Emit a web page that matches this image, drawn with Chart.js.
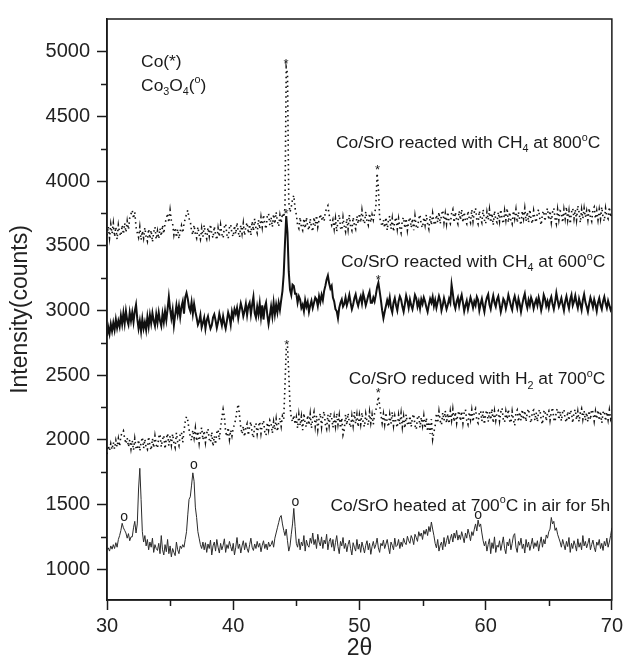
<!DOCTYPE html>
<html>
<head>
<meta charset="utf-8">
<title>XRD Co/SrO</title>
<script src="https://cdn.jsdelivr.net/npm/chart.js@4.4.1/dist/chart.umd.min.js"></script>
<style>
  html,body{margin:0;padding:0;background:#fff;}
  #wrap{width:627px;height:660px;}
</style>
</head>
<body>
<div id="wrap"><canvas id="xrd" width="627" height="660"></canvas></div>
<script>
// ===== 2θ grid (deg) =====
const twoTheta=[
30.0,30.1,30.2,30.3,30.4,30.5,30.6,30.7,30.8,30.9,
31.0,31.1,31.2,31.3,31.4,31.5,31.6,31.7,31.8,31.9,
32.0,32.1,32.2,32.3,32.4,32.5,32.6,32.7,32.8,32.9,
33.0,33.1,33.2,33.3,33.4,33.5,33.6,33.7,33.8,33.9,
34.0,34.1,34.2,34.3,34.4,34.5,34.6,34.7,34.8,34.9,
35.0,35.1,35.2,35.3,35.4,35.5,35.6,35.7,35.8,35.9,
36.0,36.1,36.2,36.3,36.4,36.5,36.6,36.7,36.8,36.9,
37.0,37.1,37.2,37.3,37.4,37.5,37.6,37.7,37.8,37.9,
38.0,38.1,38.2,38.3,38.4,38.5,38.6,38.7,38.8,38.9,
39.0,39.1,39.2,39.3,39.4,39.5,39.6,39.7,39.8,39.9,
40.0,40.1,40.2,40.3,40.4,40.5,40.6,40.7,40.8,40.9,
41.0,41.1,41.2,41.3,41.4,41.5,41.6,41.7,41.8,41.9,
42.0,42.1,42.2,42.3,42.4,42.5,42.6,42.7,42.8,42.9,
43.0,43.1,43.2,43.3,43.4,43.5,43.6,43.7,43.8,43.9,
44.0,44.1,44.2,44.3,44.4,44.5,44.6,44.7,44.8,44.9,
45.0,45.1,45.2,45.3,45.4,45.5,45.6,45.7,45.8,45.9,
46.0,46.1,46.2,46.3,46.4,46.5,46.6,46.7,46.8,46.9,
47.0,47.1,47.2,47.3,47.4,47.5,47.6,47.7,47.8,47.9,
48.0,48.1,48.2,48.3,48.4,48.5,48.6,48.7,48.8,48.9,
49.0,49.1,49.2,49.3,49.4,49.5,49.6,49.7,49.8,49.9,
50.0,50.1,50.2,50.3,50.4,50.5,50.6,50.7,50.8,50.9,
51.0,51.1,51.2,51.3,51.4,51.5,51.6,51.7,51.8,51.9,
52.0,52.1,52.2,52.3,52.4,52.5,52.6,52.7,52.8,52.9,
53.0,53.1,53.2,53.3,53.4,53.5,53.6,53.7,53.8,53.9,
54.0,54.1,54.2,54.3,54.4,54.5,54.6,54.7,54.8,54.9,
55.0,55.1,55.2,55.3,55.4,55.5,55.6,55.7,55.8,55.9,
56.0,56.1,56.2,56.3,56.4,56.5,56.6,56.7,56.8,56.9,
57.0,57.1,57.2,57.3,57.4,57.5,57.6,57.7,57.8,57.9,
58.0,58.1,58.2,58.3,58.4,58.5,58.6,58.7,58.8,58.9,
59.0,59.1,59.2,59.3,59.4,59.5,59.6,59.7,59.8,59.9,
60.0,60.1,60.2,60.3,60.4,60.5,60.6,60.7,60.8,60.9,
61.0,61.1,61.2,61.3,61.4,61.5,61.6,61.7,61.8,61.9,
62.0,62.1,62.2,62.3,62.4,62.5,62.6,62.7,62.8,62.9,
63.0,63.1,63.2,63.3,63.4,63.5,63.6,63.7,63.8,63.9,
64.0,64.1,64.2,64.3,64.4,64.5,64.6,64.7,64.8,64.9,
65.0,65.1,65.2,65.3,65.4,65.5,65.6,65.7,65.8,65.9,
66.0,66.1,66.2,66.3,66.4,66.5,66.6,66.7,66.8,66.9,
67.0,67.1,67.2,67.3,67.4,67.5,67.6,67.7,67.8,67.9,
68.0,68.1,68.2,68.3,68.4,68.5,68.6,68.7,68.8,68.9,
69.0,69.1,69.2,69.3,69.4,69.5,69.6,69.7,69.8,69.9,
70.0];

// ===== intensities (counts), one per 2θ step =====
// Co/SrO heated at 700°C in air for 5h
const airHeated=[
1150,1165,1140,1180,1155,1190,1160,1205,1170,1230,
1260,1300,1355,1320,1300,1280,1240,1275,1220,1250,
1250,1320,1370,1280,1350,1620,1780,1540,1290,1210,
1260,1180,1230,1150,1210,1170,1240,1130,1190,1160,
1145,1200,1120,1260,1150,1110,1190,1135,1230,1120,
1180,1095,1160,1130,1105,1210,1150,1120,1180,1160,
1190,1170,1230,1290,1420,1540,1560,1650,1745,1680,
1480,1400,1290,1240,1190,1160,1210,1150,1205,1130,
1195,1160,1225,1110,1180,1210,1140,1230,1170,1125,
1200,1150,1185,1235,1130,1190,1160,1215,1175,1140,
1200,1110,1170,1245,1160,1195,1125,1180,1220,1150,
1205,1160,1130,1190,1240,1170,1145,1195,1160,1215,
1170,1200,1135,1185,1220,1160,1195,1150,1210,1175,
1190,1220,1170,1240,1280,1320,1360,1400,1415,1350,
1300,1260,1310,1220,1140,1180,1270,1350,1470,1330,
1200,1170,1235,1150,1210,1180,1260,1140,1225,1185,
1170,1240,1200,1280,1190,1230,1160,1270,1210,1180,
1250,1160,1225,1195,1270,1150,1215,1240,1170,1230,
1140,1205,1260,1175,1120,1215,1180,1245,1160,1200,
1135,1190,1225,1160,1110,1205,1170,1140,1230,1155,
1195,1130,1210,1170,1125,1185,1220,1150,1200,1115,
1175,1215,1160,1190,1240,1165,1130,1200,1180,1225,
1160,1195,1230,1170,1120,1210,1185,1150,1240,1175,
1185,1230,1160,1210,1175,1240,1205,1190,1255,1220,
1200,1260,1235,1190,1270,1245,1215,1290,1255,1280,
1230,1300,1270,1310,1260,1330,1290,1365,1310,1260,
1200,1165,1230,1140,1185,1210,1150,1245,1175,1220,
1260,1195,1235,1270,1210,1280,1240,1300,1225,1265,
1230,1290,1250,1205,1280,1240,1310,1270,1220,1290,
1260,1310,1350,1295,1380,1330,1350,1280,1220,1180,
1215,1140,1190,1235,1120,1205,1160,1250,1130,1185,
1170,1220,1145,1195,1250,1160,1120,1210,1180,1235,
1150,1200,1260,1275,1170,1130,1215,1185,1240,1160,
1195,1125,1230,1170,1210,1145,1190,1240,1160,1205,
1175,1220,1140,1200,1250,1170,1230,1195,1265,1240,
1290,1310,1400,1350,1370,1300,1320,1270,1240,1210,
1170,1230,1190,1150,1215,1175,1245,1130,1200,1160,
1220,1185,1140,1235,1170,1205,1150,1260,1180,1215,
1165,1200,1240,1150,1190,1225,1170,1135,1210,1185,
1230,1160,1200,1145,1215,1180,1240,1170,1210,1260,
1320];

// Co/SrO reduced with H2 at 700°C
const h2Reduced=[
1890,1955,1915,1970,1925,1980,1930,1995,1945,2010,
1950,2030,2055,2070,2010,1970,2015,1945,2000,1930,
1995,1920,2010,1940,1925,2000,1915,1980,2020,1935,
2005,1940,1925,2025,1955,1920,2010,1940,2030,1960,
1935,2020,2045,1945,2005,2035,1930,2010,2050,1955,
2030,1960,2045,1975,1940,2055,1985,1955,2040,2060,
1980,2070,2140,2180,2150,2080,2025,1995,2075,2015,
2090,1990,2065,1975,2055,2095,2000,2070,1980,2050,
2085,2005,1980,2060,1950,2030,1965,2055,2080,2000,
2100,2170,2235,2180,2060,2025,2095,2005,2075,2030,
2090,2120,2160,2235,2275,2190,2095,2045,2105,2025,
2095,2125,2035,2105,2140,2050,2015,2110,2130,2045,
2105,2140,2050,2120,2150,2060,2035,2135,2075,2150,
2125,2050,2140,2080,2160,2065,2130,2170,2105,2185,
2160,2420,2700,2725,2520,2260,2170,2140,2190,2120,
2175,2090,2195,2110,2180,2075,2205,2120,2100,2190,
2115,2200,2090,2170,2215,2105,2185,2080,2165,2205,
2100,2185,2220,2120,2085,2195,2110,2210,2170,2095,
2180,2105,2205,2120,2190,2090,2170,2040,2080,2195,
2115,2205,2130,2095,2185,2110,2215,2125,2195,2100,
2190,2120,2210,2130,2100,2200,2140,2115,2215,2130,
2195,2120,2205,2230,2270,2335,2270,2195,2130,2200,
2120,2210,2135,2100,2195,2125,2215,2110,2185,2130,
2095,2190,2120,2205,2100,2180,2090,2195,2125,2110,
2185,2100,2175,2200,2110,2080,2170,2190,2095,2175,
2110,2185,2090,2170,2065,2140,2045,2160,2005,2060,
2110,2205,2130,2220,2145,2115,2210,2150,2225,2130,
2205,2125,2220,2150,2235,2140,2215,2130,2200,2225,
2145,2220,2130,2210,2235,2150,2120,2215,2155,2230,
2140,2215,2240,2150,2130,2210,2225,2145,2220,2120,
2205,2230,2140,2215,2155,2240,2130,2220,2150,2210,
2225,2145,2215,2245,2155,2135,2220,2160,2235,2150,
2130,2220,2155,2110,2210,2230,2140,2215,2150,2235,
2155,2225,2140,2215,2240,2160,2130,2220,2230,2150,
2210,2140,2220,2235,2155,2120,2215,2230,2145,2210,
2225,2150,2215,2250,2160,2140,2225,2240,2155,2220,
2145,2215,2235,2160,2135,2220,2150,2230,2210,2130,
2215,2235,2155,2220,2140,2210,2240,2160,2225,2150,
2210,2140,2225,2155,2235,2215,2145,2220,2160,2230,
2150,2220,2130,2210,2225,2145,2215,2155,2230,2160,
2190];

// Co/SrO reacted with CH4 at 600°C
const ch4At600=[
2800,2870,2820,2895,2840,2905,2850,2930,2865,2920,
2875,2960,2895,2980,2900,2995,2925,2890,2985,2920,
2985,2910,2995,3045,2935,2860,2920,2840,2935,2860,
2910,2850,2950,2875,2965,2900,2980,2920,2880,2970,
2905,2985,2920,2880,2975,2910,2995,2925,3010,3105,
3010,2940,3005,2885,2965,3040,2970,3035,2950,3030,
3070,2975,3100,3135,3090,3025,2995,3065,2975,3050,
2990,2945,2890,2915,2965,2870,2905,2945,2860,2925,
2955,2900,2860,2885,2945,2970,2925,2865,2910,2975,
2930,2885,2955,2900,2860,2920,2985,2950,2890,2990,
2945,3010,2975,3020,2940,3000,3055,3015,2955,2995,
3050,2965,3035,3060,2970,3045,3105,2980,2945,3030,
2970,3055,2950,3040,2930,3025,3060,2965,2895,2960,
3030,2955,3060,2970,3045,2985,3060,3005,3080,3150,
3280,3520,3730,3600,3300,3160,3120,3200,3190,3130,
3130,3060,3110,3085,3020,3045,2995,3080,3030,3065,
2990,3040,3075,3020,3060,3100,3085,3035,3110,3065,
3120,3080,3150,3190,3240,3270,3210,3170,3190,3100,
3070,3010,2995,2940,3020,3060,3085,3030,3050,3100,
3040,3075,3120,3060,3010,3045,3095,3125,3070,3035,
3080,3110,3055,3130,3090,3040,3075,3115,3145,3060,
3060,3100,3070,3120,3180,3215,3150,3080,3000,2940,
2990,3035,3080,3045,3100,3020,2985,3060,3095,3040,
3000,3070,3110,3085,3030,2990,3050,3115,3075,3020,
3085,3040,3010,3060,3120,3095,3030,3070,3015,3085,
3050,3100,3070,3025,2990,3045,3090,3060,3105,3035,
3080,3020,3065,3110,3075,3000,3040,3095,3055,3010,
3045,3090,3060,3200,3130,3050,3015,3070,3100,3035,
3085,3120,3060,2995,3040,3075,3010,3055,3100,3065,
3020,3070,3040,3105,3080,3000,3050,3090,3035,2990,
3060,3100,3125,3045,3010,3070,3115,3060,3030,3085,
3110,3050,2990,3035,3090,3070,3015,3060,3120,3080,
3035,3005,3075,3110,3065,3020,3090,3050,2990,3045,
3095,3130,3060,3020,3080,3040,3100,3070,3015,3055,
3085,3040,3100,3060,3000,3045,3120,3090,3035,3070,
3020,3075,3105,3050,3010,3065,3135,3080,3030,3060,
3095,3045,3000,3070,3110,3055,3015,3085,3120,3040,
3070,3115,3060,3020,3090,3050,3005,3080,3125,3065,
3030,2990,3050,3100,3065,3025,3085,3045,2995,3060,
3095,3040,3010,3070,3105,3055,3020,3075,3040,3005,
3030];

// Co/SrO reacted with CH4 at 800°C
const ch4At800=[
3580,3650,3560,3665,3595,3675,3570,3645,3550,3660,
3600,3575,3660,3590,3675,3605,3690,3625,3715,3745,
3775,3710,3760,3645,3600,3565,3645,3545,3615,3560,
3640,3570,3535,3630,3555,3620,3530,3605,3645,3550,
3615,3555,3635,3575,3660,3595,3675,3710,3750,3680,
3775,3695,3670,3585,3640,3565,3630,3555,3615,3655,
3600,3670,3710,3745,3775,3710,3690,3615,3585,3660,
3590,3560,3645,3585,3550,3635,3570,3660,3590,3555,
3640,3575,3665,3595,3560,3650,3585,3545,3635,3570,
3660,3590,3560,3645,3670,3585,3555,3640,3665,3595,
3570,3655,3590,3680,3605,3565,3660,3595,3675,3580,
3650,3680,3595,3665,3580,3690,3615,3710,3635,3600,
3700,3630,3720,3645,3740,3670,3630,3730,3750,3660,
3720,3645,3745,3670,3760,3690,3650,3735,3675,3750,
3720,3790,4880,4830,3840,3760,3800,3860,3890,3790,
3740,3660,3635,3720,3645,3620,3710,3635,3720,3650,
3620,3710,3645,3610,3720,3650,3735,3645,3700,3745,
3700,3730,3690,3760,3790,3810,3740,3690,3660,3700,
3630,3710,3610,3700,3740,3640,3620,3720,3650,3610,
3710,3630,3740,3650,3620,3720,3660,3630,3730,3670,
3750,3680,3775,3700,3670,3765,3690,3660,3750,3680,
3740,3700,3750,3800,4060,3950,3720,3680,3650,3700,
3640,3720,3620,3700,3730,3630,3710,3610,3690,3720,
3630,3710,3640,3600,3700,3720,3635,3710,3620,3690,
3720,3640,3710,3620,3730,3650,3630,3710,3740,3660,
3640,3720,3660,3740,3670,3630,3730,3660,3750,3680,
3660,3740,3680,3760,3670,3740,3775,3680,3750,3670,
3760,3690,3670,3750,3780,3680,3760,3700,3670,3770,
3700,3780,3680,3760,3690,3670,3770,3710,3680,3780,
3690,3760,3790,3700,3670,3770,3710,3680,3780,3700,
3670,3760,3700,3780,3680,3750,3660,3770,3700,3680,
3760,3690,3780,3710,3670,3770,3700,3790,3680,3760,
3700,3670,3770,3710,3780,3680,3760,3700,3660,3770,
3710,3790,3690,3760,3680,3780,3700,3670,3770,3710,
3680,3760,3780,3700,3660,3750,3770,3690,3760,3790,
3700,3770,3680,3760,3790,3710,3670,3780,3700,3770,
3760,3680,3780,3710,3800,3700,3770,3670,3760,3790,
3710,3780,3700,3810,3760,3680,3780,3710,3790,3720,
3770,3700,3790,3720,3690,3780,3800,3710,3770,3700,
3780,3710,3800,3720,3690,3790,3730,3710,3800,3720,
3760];

// ===== axes =====
const xTicks=[30,40,50,60,70];
const xMinorTicks=[35,45,55,65];
const yTicks=[1000,1500,2000,2500,3000,3500,4000,4500,5000];
const yMinorTicks=[1250,1750,2250,2750,3250,3750,4250,4750];

// ===== peak marks: Co (*) and Co3O4 (o) =====
const coMarkX=[44.19,51.44,44.19,51.49,44.24,51.49];
const coMarkY=[4930,4115,3772,3265,2758,2392];
const oxideMarkX=[31.36,36.89,44.92,59.40];
const oxideMarkY=[1399,1806,1514,1415];

// ===== text labels (rich parts: [text, 'sub'|'sup'|undefined]) =====
const labelParts=[
  [['Co/SrO reacted with CH'],['4','sub'],[' at 800'],['o','sup'],['C']],
  [['Co/SrO reacted with CH'],['4','sub'],[' at 600'],['o','sup'],['C']],
  [['Co/SrO reduced with H'],['2','sub'],[' at 700'],['o','sup'],['C']],
  [['Co/SrO heated at 700'],['o','sup'],['C in air for 5h']],
  [['Co(*)']],
  [['Co'],['3','sub'],['O'],['4','sub'],['('],['o','sup'],[')']]
];
const labelX=[69.08,69.47,69.47,69.86,32.70,32.70];
const labelY=[4255,3334,2428,1453,4885,4700];
const labelAlign=['right','right','right','right','left','left'];

(function(){
  const FONT='"Liberation Sans", Arial, Helvetica, sans-serif';
  const INK='#1a1a1a';
  const pts=ys=>twoTheta.map((x,i)=>({x,y:ys[i]}));

  function drawRich(ctx,parts,x,y,align,size){
    const seg=parts.map(([t,k])=>{
      const s=k?size*0.62:size;
      ctx.font=`${s}px ${FONT}`;
      return {t,k,s,w:ctx.measureText(t).width};
    });
    const total=seg.reduce((a,b)=>a+b.w,0);
    let cx=align==='right'?x-total:x;
    ctx.textAlign='left'; ctx.textBaseline='alphabetic';
    for(const g of seg){
      ctx.font=`${g.s}px ${FONT}`;
      const dy=g.k==='sub'?size*0.24:(g.k==='sup'?-size*0.42:0);
      ctx.fillText(g.t,cx,y+dy);
      cx+=g.w;
    }
  }

  const decor={
    id:'decor',
    afterDraw(chart){
      const {ctx,chartArea:a,scales:{x,y}}=chart;
      ctx.save();
      ctx.strokeStyle=INK; ctx.lineWidth=1.5;
      ctx.strokeRect(a.left,a.top,a.right-a.left,a.bottom-a.top);
      // minor ticks
      ctx.beginPath();
      for(const v of yMinorTicks){ const p=Math.round(y.getPixelForValue(v))+0.5; ctx.moveTo(a.left,p); ctx.lineTo(a.left-6,p); }
      for(const v of xMinorTicks){ const p=Math.round(x.getPixelForValue(v))+0.5; ctx.moveTo(p,a.bottom); ctx.lineTo(p,a.bottom+6); }
      ctx.stroke();
      // labels
      ctx.fillStyle=INK;
      labelParts.forEach((parts,i)=>{
        drawRich(ctx,parts,x.getPixelForValue(labelX[i]),y.getPixelForValue(labelY[i]),labelAlign[i],17.4);
      });
      // peak marks
      ctx.textAlign='center'; ctx.textBaseline='alphabetic';
      ctx.font=`13px ${FONT}`;
      coMarkX.forEach((v,i)=>ctx.fillText('*',x.getPixelForValue(v),y.getPixelForValue(coMarkY[i])+13*0.57));
      ctx.font=`14px ${FONT}`;
      oxideMarkX.forEach((v,i)=>ctx.fillText('o',x.getPixelForValue(v),y.getPixelForValue(oxideMarkY[i])+14*0.26));
      ctx.restore();
    }
  };

  const dotted={borderDash:[1.5,3.4],borderWidth:1.6};
  new Chart(document.getElementById('xrd'),{
    type:'line',
    data:{datasets:[
      {label:'air 700°C 5h',data:pts(airHeated),borderColor:'#2b2b2b',borderWidth:1},
      {label:'H2 700°C',data:pts(h2Reduced),borderColor:'#111',...dotted},
      {label:'CH4 600°C',data:pts(ch4At600),borderColor:'#111',borderWidth:2},
      {label:'CH4 800°C',data:pts(ch4At800),borderColor:'#111',...dotted}
    ]},
    options:{
      responsive:false,animation:false,
      layout:{padding:{top:15,right:9,left:0,bottom:0}},
      elements:{point:{radius:0},line:{tension:0}},
      plugins:{legend:{display:false},tooltip:{enabled:false}},
      scales:{
        x:{type:'linear',min:30,max:70,
          afterBuildTicks:s=>{ s.ticks=xTicks.map(v=>({value:v})); },
          afterFit:s=>{ s.height=60; },
          grid:{drawOnChartArea:false,tickLength:10,tickColor:INK,tickWidth:1.5},
          border:{color:INK,width:1.5},
          ticks:{color:'#222',font:{family:FONT,size:20},padding:4,maxRotation:0,callback:v=>String(v)},
          title:{display:true,text:'2θ',color:'#222',font:{family:FONT,size:23,lineHeight:1},padding:{top:0,bottom:0}}
        },
        y:{type:'linear',min:762,max:5253,
          afterBuildTicks:s=>{ s.ticks=yTicks.map(v=>({value:v})); },
          afterFit:s=>{ s.width=107; },
          grid:{drawOnChartArea:false,tickLength:10,tickColor:INK,tickWidth:1.5},
          border:{color:INK,width:1.5},
          ticks:{color:'#222',font:{family:FONT,size:20},padding:7,callback:v=>String(v)},
          title:{display:true,text:'Intensity(counts)',color:'#222',font:{family:FONT,size:23,lineHeight:1},padding:{top:9,bottom:0}}
        }
      }
    },
    plugins:[decor]
  });
})();
</script>
</body>
</html>
